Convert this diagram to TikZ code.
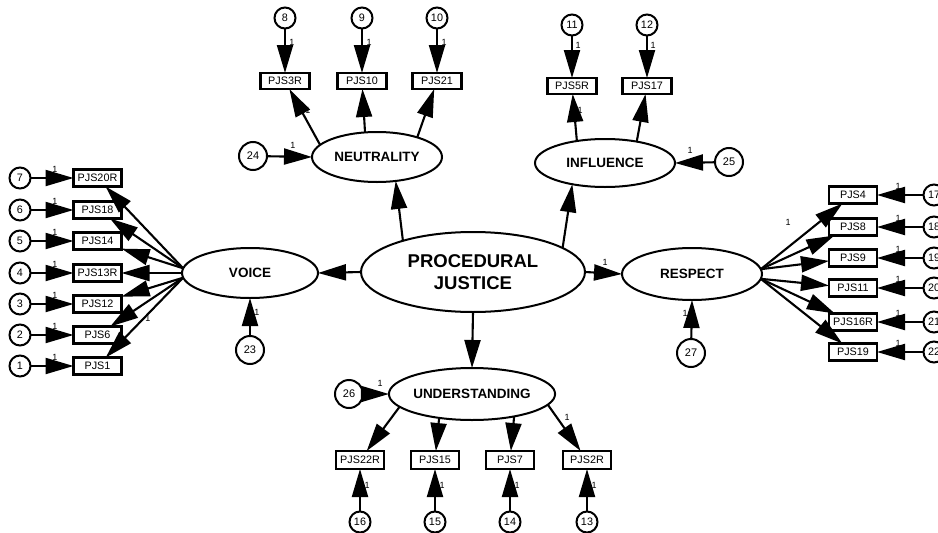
\documentclass[tikz,border=0pt]{standalone}
\usepackage{fontspec}
\setmainfont{Liberation Sans}
\usetikzlibrary{arrows.meta,shapes.geometric}
\begin{document}
\begin{tikzpicture}[x=1pt,y=-1pt,
  obs/.style={draw, line width=2.4pt, rectangle, minimum width=48pt, minimum height=17pt, inner sep=0pt, outer sep=0pt, font=\fontsize{10.8}{10.8}\selectfont},
  err/.style={draw, line width=2pt, circle, minimum size=21pt, inner sep=0pt, outer sep=0pt, font=\fontsize{10.8}{10.8}\selectfont},
  derr/.style={err, minimum size=28pt, font=\fontsize{11}{11}\selectfont},
  lat/.style={draw, line width=2pt, ellipse, inner sep=0pt, outer sep=0pt, font=\bfseries\fontsize{13.5}{13.5}\selectfont},
  arr/.style={line width=2.1pt, -{Triangle[length=28pt,width=16pt]}},
  one/.style={font=\fontsize{9}{9}\selectfont, inner sep=0pt},
]
\useasboundingbox (0,0) rectangle (938,533);

% latent variables
\node[lat, minimum width=224pt, minimum height=80pt, align=center, font=\bfseries\fontsize{18.5}{22}\selectfont] (pj) at (473,272) {PROCEDURAL\\JUSTICE};
\node[lat, minimum width=136pt, minimum height=50pt] (voice) at (250,273) {VOICE};
\node[lat, minimum width=130pt, minimum height=50pt] (neut) at (377,157) {NEUTRALITY};
\node[lat, minimum width=140pt, minimum height=48pt] (infl) at (605,163) {INFLUENCE};
\node[lat, minimum width=140pt, minimum height=52pt] (resp) at (692,274) {RESPECT};
\node[lat, minimum width=140pt, minimum height=52pt] (und) at (472,394) {UNDERSTANDING};

% disturbances
\node[derr] (c23) at (250,350) {23};
\node[derr] (c24) at (253,156) {24};
\node[derr] (c25) at (729,162) {25};
\node[derr] (c26) at (349,394) {26};
\node[derr] (c27) at (691,353) {27};

% structural paths
\draw[arr] (pj.west) -- (voice.east);
\draw[arr] (pj.156) -- (neut.-52);
\draw[arr] (pj.15) -- (infl.-147);
\draw[arr] (pj.east) -- (resp.west);
\draw[arr] (pj.south) -- (und.north);
\draw[arr] (c23) -- (voice.south);
\draw[arr] (c24) -- (neut.west);
\draw[arr] (c25) -- (infl.east);
\draw[arr] (c26) -- (und.west);
\draw[arr] (c27) -- (resp.south);
\node[one] (l23) at (257,312) {1};
\node[one] (l24) at (293,145) {1};
\node[one] (l25) at (690,150) {1};
\node[one] (l26) at (380,383) {1};
\node[one] (l27) at (685,313) {1};
\node[one] (lpr) at (605,262) {1};

% VOICE indicators (left)
\foreach \b/\y/\e/\a in {PJS20R/178/7/176, PJS18/210/6/176, PJS14/241/5/176, PJS13R/273/4/180, PJS12/304/3/184, PJS6/335/2/184, PJS1/366/1/184} {
  \node[obs] (\b) at (97.5,\y) {\b};
  \node[err] (e\e) at (20,\y) {\e};
  \node[one] (o\e) at (55,\y-9) {1};
  \draw[arr] (e\e) -- (\b);
  \draw[arr] (voice.\a) -- (\b);
}
\node[one] (lv6) at (148,318) {1};

% RESPECT indicators (right)
\foreach \b/\y/\e/\a in {PJS4/195/17/4, PJS8/227/18/4, PJS9/258/19/4, PJS11/288/20/-4, PJS16R/322/21/-4, PJS19/352/22/-4} {
  \node[obs] (\b) at (853,\y) {\b};
  \node[err] (e\e) at (934,\y) {\e};
  \node[one] (o\e) at (898,\y-9) {1};
  \draw[arr] (e\e) -- (\b);
  \draw[arr] (resp.\a) -- (\b);
}
\node[one] (lr4) at (788,222) {1};

% NEUTRALITY indicators (top)
\foreach \b/\x/\e/\a in {PJS3R/285/8/168, PJS10/362/9/116, PJS21/437/10/26} {
  \node[obs, minimum width=49pt, minimum height=16pt] (\b) at (\x,81) {\b};
  \node[err] (e\e) at (\x,18) {\e};
  \node[one] (o\e) at (\x+7,42) {1};
  \draw[arr] (e\e) -- (\b);
  \draw[arr] (neut.\a) -- (\b);
}
\node[one] (ln3) at (308,110) {1};

% INFLUENCE indicators (top)
\foreach \b/\x/\e/\a in {PJS5R/572/11/142, PJS17/647/12/34} {
  \node[obs, minimum width=49pt, minimum height=16pt] (\b) at (\x,86) {\b};
  \node[err] (e\e) at (\x,25) {\e};
  \node[one] (o\e) at (\x+6,45) {1};
  \draw[arr] (e\e) -- (\b);
  \draw[arr] (infl.\a) -- (\b);
}
\node[one] (li5) at (580,110) {1};

% UNDERSTANDING indicators (bottom)
\foreach \b/\x/\e/\a in {PJS22R/360/16/-170, PJS15/435/15/-144, PJS7/510/14/-28, PJS2R/587/13/-8} {
  \node[obs, minimum height=18pt] (\b) at (\x,460) {\b};
  \node[err] (e\e) at (\x,522) {\e};
  \node[one] (o\e) at (\x+7,485) {1};
  \draw[arr] (e\e) -- (\b);
  \draw[arr] (und.\a) -- (\b);
}
\node[one] (lu2) at (567,417) {1};
\end{tikzpicture}
\end{document}
